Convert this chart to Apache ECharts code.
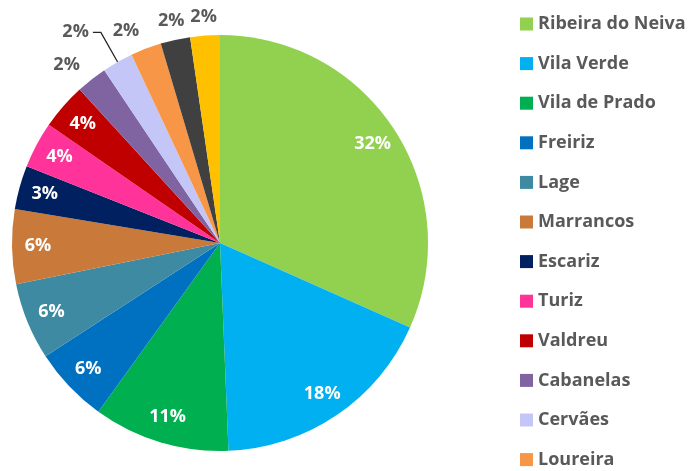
<!DOCTYPE html>
<html>
<head>
<meta charset="utf-8">
<script src="https://cdn.jsdelivr.net/npm/echarts@6/dist/echarts.min.js"></script>
<style>
  html, body { margin: 0; padding: 0; background: #fff; }
  #main { width: 688px; height: 471px; }
</style>
</head>
<body>
<div id="main"></div>
<script>
// freguesias e percentagens
var names = ['Ribeira do Neiva', 'Vila Verde', 'Vila de Prado', 'Freiriz', 'Lage', 'Marrancos',
  'Escariz', 'Turiz', 'Valdreu', 'Cabanelas', 'Cervães', 'Loureira', 'Oleiros', 'Soutelo'];
var values = [31.7, 17.7, 10.6, 5.9, 6.0, 5.8, 3.4, 3.6, 3.6, 2.4, 2.4, 2.4, 2.3, 2.3];
var colors = ['#92D050', '#00B0F0', '#00B050', '#0070C0', '#3E8AA2', '#C97A3A',
  '#002060', '#FF3399', '#C00000', '#8064A2', '#C4C6F8', '#F79646', '#404040', '#FFC000'];
var legendNames = names.slice(0, 12);

var FONT = 'Open Sans';
var CENTER = [220, 243];
var pct = function (p) { return Math.round(p.percent) + '%'; };

// fatia principal, rótulos de fora para Cabanelas, Cervães, Loureira
var outsideCfg = {
  'Cabanelas': { len: 19, len2: 0, line: false },
  'Cervães': { len: 34, len2: 8, line: true },
  'Loureira': { len: 19, len2: 0, line: false }
};
var mainData = names.map(function (n, i) {
  var d = { name: n, value: values[i], itemStyle: { color: colors[i] } };
  var o = outsideCfg[n];
  if (o) {
    d.label = { show: true, position: 'outside', formatter: pct, color: '#595959',
      fontFamily: FONT, fontWeight: 'bold', fontSize: 18,
      distanceToLabelLine: o.line ? 4 : 0 };
    d.labelLine = { show: o.line, length: o.len, length2: o.len2,
      lineStyle: { color: '#262626', width: 1.3 } };
  }
  return d;
});

// anel transparente só para pôr os rótulos brancos perto da borda
var innerData = names.map(function (n, i) {
  return { name: n, value: values[i], label: { show: i < 9 } };
});
// anel exterior para os rótulos das duas últimas fatias
var outerData = names.map(function (n, i) {
  return { name: n, value: values[i], label: { show: i >= 12 } };
});

var chart = echarts.init(document.getElementById('main'));
chart.setOption({
  animation: false,
  legend: {
    orient: 'vertical',
    left: 520,
    top: 14,
    padding: 0,
    data: legendNames,
    icon: 'rect',
    itemWidth: 13,
    itemHeight: 13,
    itemGap: 19.6,
    selectedMode: false,
    textStyle: { color: '#595959', fontFamily: FONT, fontWeight: 'bold', fontSize: 18, lineHeight: 20 }
  },
  series: [
    {
      type: 'pie',
      center: CENTER,
      radius: [0, 208],
      startAngle: 90,
      clockwise: true,
      avoidLabelOverlap: false,
      silent: true,
      label: { show: false },
      labelLine: { show: false },
      itemStyle: { borderWidth: 0 },
      data: mainData
    },
    {
      type: 'pie',
      center: CENTER,
      radius: [150, 208],
      startAngle: 90,
      clockwise: true,
      silent: true,
      legendHoverLink: false,
      avoidLabelOverlap: false,
      itemStyle: { color: 'rgba(0,0,0,0)', borderWidth: 0 },
      label: { position: 'inside', formatter: pct, color: '#fff', fontFamily: FONT, fontWeight: 'bold', fontSize: 18 },
      labelLine: { show: false },
      data: innerData
    },
    {
      type: 'pie',
      center: CENTER,
      radius: [212, 236],
      startAngle: 90,
      clockwise: true,
      silent: true,
      legendHoverLink: false,
      avoidLabelOverlap: false,
      itemStyle: { color: 'rgba(0,0,0,0)', borderWidth: 0 },
      label: { position: 'inside', formatter: pct, color: '#595959', fontFamily: FONT, fontWeight: 'bold', fontSize: 18 },
      labelLine: { show: false },
      data: outerData
    }
  ]
});
window.onresize = chart.resize;
</script>
</body>
</html>
